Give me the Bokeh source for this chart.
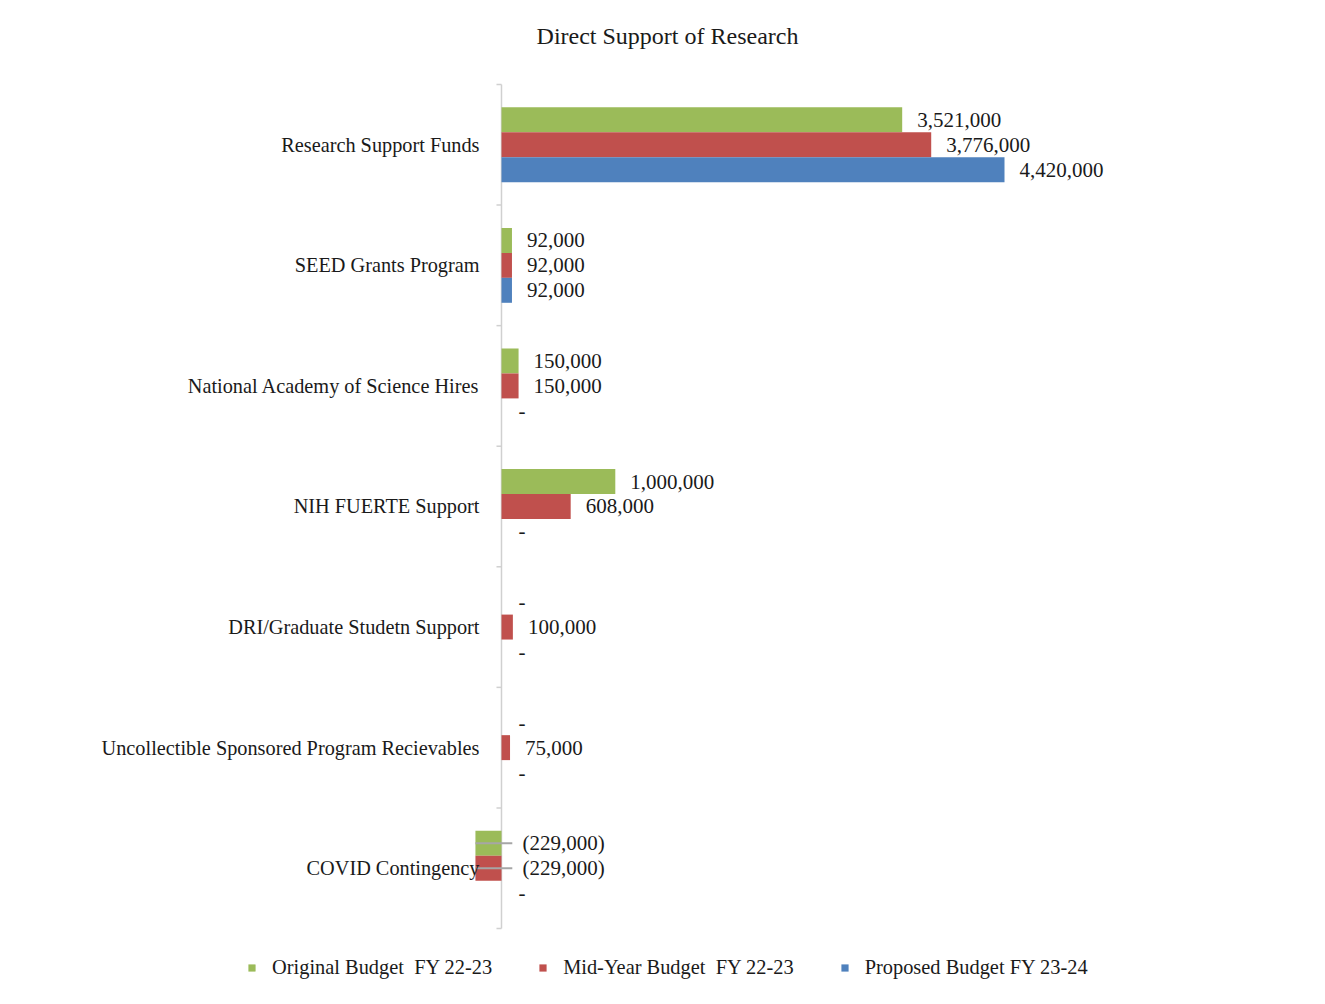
from bokeh.plotting import figure
from bokeh.models import ColumnDataSource, Range1d, Legend, LegendItem
from bokeh.core.properties import value
from bokeh.embed import file_html
from bokeh.resources import INLINE

title_text = "Direct Support of Research"
categories = [
    "Research Support Funds",
    "SEED Grants Program",
    "National Academy of Science Hires",
    "NIH FUERTE Support",
    "DRI/Graduate Studetn Support",
    "Uncollectible Sponsored Program Recievables",
    "COVID Contingency",
]
original_budget = [3521000, 92000, 150000, 1000000, 0, 0, -229000]
midyear_budget = [3776000, 92000, 150000, 608000, 100000, 75000, -229000]
proposed_budget = [4420000, 92000, 0, 0, 0, 0, 0]
series_names = ["Original Budget  FY 22-23", "Mid-Year Budget  FY 22-23", "Proposed Budget FY 23-24"]
series_values = [original_budget, midyear_budget, proposed_budget]
colors = ["#9BBB59", "#C0504D", "#4F81BD"]

FONT = "Liberation Serif"
BAR_H = 0.207
OFFSETS = [BAR_H, 0.0, -BAR_H]
LEADER_END = 95000
TICK_LEN = 44000
AXIS_COLOR = "#d0d0d0"
X_START, X_END = -4103600, 7021000
Y_BOTTOM_PAD = 0.4645
Y_TOP_PAD = 0.6967
TITLE_POS = 0.4064

n = len(categories)
centers = [n - 0.5 - i for i in range(n)]


def fmt(v):
    if v == 0:
        return "-"
    if v < 0:
        return "({:,})".format(-v)
    return "{:,}".format(v)


p = figure(width=1309, height=988, output_backend="svg", toolbar_location=None,
           x_range=Range1d(X_START, X_END), y_range=Range1d(-Y_BOTTOM_PAD, n + Y_TOP_PAD),
           min_border_left=34, min_border_right=9, min_border_top=0, min_border_bottom=4)
p.xaxis.visible = False
p.yaxis.visible = False
p.xgrid.visible = False
p.ygrid.visible = False
p.outline_line_color = None
p.background_fill_color = "white"
p.border_fill_color = "white"

# chart title
p.text(x=[(X_START + X_END) / 2], y=[n + TITLE_POS], text=[title_text],
       text_font=value(FONT), text_font_size="24px", text_color="#1a1a1a",
       text_align="center", text_baseline="middle")

# category axis line and ticks at category boundaries
p.segment(x0=[0], x1=[0], y0=[0], y1=[n], line_color=AXIS_COLOR, line_width=1.5)
p.segment(x0=[-TICK_LEN] * (n + 1), x1=[0] * (n + 1), y0=list(range(n + 1)), y1=list(range(n + 1)),
          line_color=AXIS_COLOR, line_width=1.5)

renderers = []
for vals, name, col, off in zip(series_values, series_names, colors, OFFSETS):
    ys = [c + off for c in centers]
    src = ColumnDataSource(dict(y=ys, right=vals, left=[0] * n))
    r = p.hbar(y="y", left="left", right="right", height=BAR_H, source=src,
               fill_color=col, line_color=None)
    renderers.append((name, r))

    # leader lines for negative values
    neg = [(v, y) for v, y in zip(vals, ys) if v < 0]
    if neg:
        p.segment(x0=[v for v, _ in neg], x1=[LEADER_END] * len(neg),
                  y0=[y for _, y in neg], y1=[y for _, y in neg],
                  line_color="#a6a6a6", line_width=2)

    lx = [max(v, 0) for v in vals]
    loff = [15 if v > 0 else (17 if v == 0 else 21) for v in vals]
    lsrc = ColumnDataSource(dict(x=lx, y=ys, t=[fmt(v) for v in vals], o=loff))
    p.text(x="x", y="y", text="t", x_offset="o", source=lsrc,
           text_font=value(FONT), text_font_size="21px", text_color="#1a1a1a",
           text_align="left", text_baseline="middle")

csrc = ColumnDataSource(dict(x=[0] * n, y=centers, t=categories))
p.text(x="x", y="y", text="t", x_offset=-22, source=csrc,
       text_font=value(FONT), text_font_size="20.3px", text_color="#1a1a1a",
       text_align="right", text_baseline="middle")

legend = Legend(items=[LegendItem(label=nm, renderers=[r]) for nm, r in renderers],
                orientation="horizontal", location=(213, 5),
                label_text_font=FONT, label_text_font_size="20.4px", label_text_color="#1a1a1a",
                glyph_width=9, glyph_height=9, label_standoff=16, spacing=46,
                border_line_color=None, background_fill_alpha=0, margin=0, padding=6)
p.add_layout(legend, "center")

open("out.html", "w").write(file_html(p, INLINE))
